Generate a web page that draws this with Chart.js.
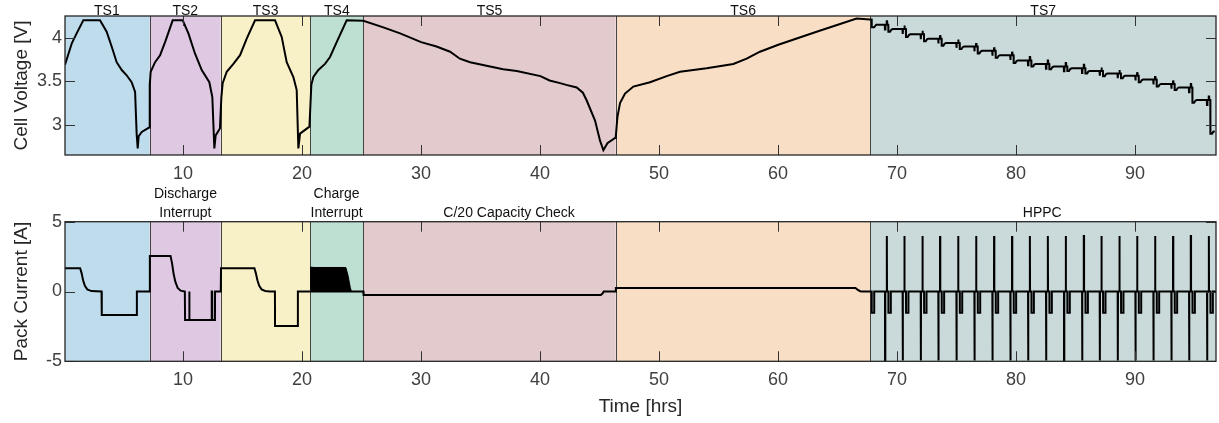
<!DOCTYPE html>
<html>
<head>
<meta charset="utf-8">
<script src="https://cdn.jsdelivr.net/npm/chart.js@4.4.0/dist/chart.umd.min.js"></script>
<style>
  html, body { margin: 0; padding: 0; background: #fff; }
  #wrap { position: relative; width: 1219px; height: 423px; overflow: hidden; }
  canvas { position: absolute; left: 0; }
  #voltageChart { top: 0; }
  #currentChart { top: 186px; }
</style>
</head>
<body>
<div id="wrap">
  <canvas id="voltageChart" width="1219" height="186"></canvas>
  <canvas id="currentChart" width="1219" height="237"></canvas>
</div>
<script>
// Test phases [hrs]
const phaseNames = ['TS1', 'TS2', 'TS3', 'TS4', 'TS5', 'TS6', 'TS7'];
const phaseStarts = [0, 7.2, 13.17, 20.7, 25.15, 46.36, 67.76];
const phaseEnds = [7.2, 13.17, 20.7, 25.15, 46.36, 67.76, 96.8];
const phaseColors = ['#bedcec', '#dec8e2', '#f8f0c6', '#bee0d2', '#e3cacc', '#f8dec4', '#cadada'];

// Notes above the current panel
const currentNotes = [['Discharge', 'Interrupt'], ['Charge', 'Interrupt'], ['C/20 Capacity Check'], ['HPPC']];
const currentNoteTimes = [10.2, 22.9, 37.4, 82.2];

// Axes
const timeMin = 0.08;
const timeMax = 96.8;
const timeTicks = [10, 20, 30, 40, 50, 60, 70, 80, 90];
const voltageTicks = [3, 3.5, 4];
const currentTicks = [-5, 0, 5];

// Cell voltage, TS1 - TS6 and start of TS7
const voltageTime = [
  0.08, 0.38, 0.66, 1.06, 1.62, 3.02, 3.58, 4.0, 4.42, 4.85, 5.26, 5.68, 5.97, 6.1, 6.19, 6.27, 6.53, 7.14,
  7.2, 7.28, 7.65, 8.07, 8.49, 9.13, 9.97, 10.45, 11.0, 11.57, 12.21, 12.46, 12.63, 12.74, 13.1,
  13.22, 13.33, 13.67, 14.23, 14.79, 15.35, 16.05, 17.73, 18.29, 18.71, 19.27, 19.55, 19.69, 19.83, 20.62,
  20.78, 20.95, 21.37, 21.93, 22.35, 22.91, 23.75, 25.15,
  26.83, 28.24, 30.0, 31.3, 32.44, 33.26, 34.12, 35.8, 36.9, 38.04, 40.03, 40.8, 41.68, 42.2, 43.08,
  43.6, 43.92, 44.62, 45.04, 45.32, 45.66, 46.3,
  46.36, 46.5, 46.72, 47.14, 47.84, 49.24, 50.64, 51.76, 54.0, 56.24, 57.36, 58.48, 60.02, 63.24, 66.6, 67.72,
  67.86, 67.87, 68.07, 68.25
];
const voltageValues = [
  3.69, 3.82, 3.94, 4.05, 4.2, 4.2, 4.07, 3.9, 3.72, 3.63, 3.57, 3.49, 3.38, 2.9, 2.73, 2.87, 2.92, 2.97,
  3.46, 3.61, 3.72, 3.8, 3.95, 4.2, 4.2, 4.05, 3.82, 3.63, 3.49, 3.32, 2.73, 2.88, 2.96,
  3.32, 3.48, 3.61, 3.7, 3.8, 3.99, 4.2, 4.2, 4.01, 3.72, 3.55, 3.4, 2.73, 2.9, 2.98,
  3.46, 3.55, 3.63, 3.7, 3.78, 3.95, 4.2, 4.195,
  4.12, 4.05, 3.95, 3.9, 3.84, 3.76, 3.72, 3.67, 3.64, 3.62, 3.56, 3.51, 3.48, 3.46, 3.43,
  3.37, 3.28, 3.05, 2.82, 2.71, 2.79, 2.85,
  2.86, 3.09, 3.25, 3.36, 3.44, 3.49, 3.56, 3.61, 3.65, 3.7, 3.76, 3.84, 3.92, 4.07, 4.22, 4.21,
  4.21, 4.12, 4.12, 4.15
];

// HPPC (TS7): pulse times and rest voltage after each pulse
const hppcPulseTimes = [69.13, 70.61, 72.13, 73.61, 75.13, 76.64, 78.15, 79.66, 81.15, 82.66,
  84.17, 85.69, 87.17, 88.68, 90.17, 91.68, 93.19, 94.68, 96.19];
const hppcStartVoltage = 4.15;
const hppcRestVoltage = [4.10, 4.04, 3.99, 3.94, 3.90, 3.85, 3.80, 3.74, 3.70, 3.67,
  3.65, 3.62, 3.59, 3.565, 3.52, 3.47, 3.43, 3.285, 2.93];
const hppcDip = 0.055;     // voltage drop during discharge pulse
const hppcRise = 0.04;     // voltage rise during charge pulse
const hppcSag = 0.03;      // voltage sag during SOC step
const hppcDischargeAmps = -4.95;
const hppcChargeAmps = 3.97;
const hppcStepAmps = -1.52;

// Pack current, TS1 - TS6 and start of TS7
const currentTime = [
  0.08, 1.35, 1.48, 1.6, 1.75, 1.95, 2.3, 3.15, 3.17, 6.1, 6.12, 7.2,
  7.21, 8.95, 9.08, 9.2, 9.35, 9.55, 9.8, 10.15, 10.17, 10.5, 10.51, 10.54, 10.55, 12.4, 12.41, 12.44, 12.45, 12.68, 12.69, 13.17,
  13.19, 16.0, 16.12, 16.25, 16.4, 16.6, 16.9, 17.3, 17.72, 17.73, 19.63, 19.65,
  25.15, 25.17, 45.1, 45.25, 45.35, 46.35, 46.37, 66.5, 66.7, 66.9, 67.1,
  67.86, 67.87, 68.07, 68.08
];
const currentValues = [
  1.66, 1.66, 1.3, 0.8, 0.4, 0.15, 0.03, 0, -1.68, -1.68, 0, 0,
  2.54, 2.54, 2.0, 1.3, 0.7, 0.25, 0.06, 0, -2.04, -2.04, 0, 0, -2.04, -2.04, 0, 0, -2.04, -2.04, 0, 0,
  1.66, 1.66, 1.3, 0.8, 0.4, 0.15, 0.04, 0, 0, -2.47, -2.47, 0,
  0, -0.25, -0.25, -0.15, 0, 0, 0.25, 0.25, 0.12, 0.02, 0,
  0, -1.52, -1.52, 0
];

// Charge interrupt (TS4) envelope of the fast current toggling
const chargeInterruptTime = [20.72, 20.72, 21.0, 23.68, 23.85, 24.05, 24.15];
const chargeInterruptTop = [0, 1.75, 1.72, 1.72, 1.2, 0.3, 0];

const FONT = '"Liberation Sans", Arial, Helvetica, sans-serif';

function buildVoltage() {
  const pts = voltageTime.map((t, i) => ({x: t, y: voltageValues[i]}));
  let prev = hppcStartVoltage;
  hppcPulseTimes.forEach((t, k) => {
    const next = hppcRestVoltage[k];
    pts.push(
      {x: t - 0.16, y: prev}, {x: t - 0.15, y: prev - hppcDip}, {x: t - 0.12, y: prev - hppcDip},
      {x: t - 0.11, y: prev}, {x: t - 0.01, y: prev}, {x: t, y: prev + hppcRise},
      {x: t + 0.03, y: prev + hppcRise}, {x: t + 0.04, y: prev}, {x: t + 0.13, y: prev},
      {x: t + 0.14, y: next - hppcSag}, {x: t + 0.28, y: next - hppcSag},
      {x: t + 0.38, y: next - 0.008}, {x: t + 0.5, y: next}
    );
    prev = next;
  });
  return pts;
}

function buildCurrent() {
  const pts = currentTime.map((t, i) => ({x: t, y: currentValues[i]}));
  hppcPulseTimes.forEach(t => {
    pts.push(
      {x: t - 0.145, y: 0}, {x: t - 0.14, y: hppcDischargeAmps}, {x: t - 0.12, y: hppcDischargeAmps},
      {x: t - 0.115, y: 0}, {x: t - 0.005, y: 0}, {x: t, y: hppcChargeAmps},
      {x: t + 0.02, y: hppcChargeAmps}, {x: t + 0.025, y: 0}, {x: t + 0.14, y: 0},
      {x: t + 0.145, y: hppcStepAmps}, {x: t + 0.34, y: hppcStepAmps}, {x: t + 0.345, y: 0}
    );
  });
  pts.push({x: timeMax, y: 0});
  return pts;
}

// Shaded phases, boundaries, box and inward ticks (MATLAB style)
const phasePlugin = {
  id: 'phases',
  beforeDatasetsDraw(chart) {
    const {ctx, chartArea: a, scales: {x}} = chart;
    ctx.save();
    phaseStarts.forEach((s, i) => {
      const x0 = x.getPixelForValue(Math.max(s, x.min));
      const x1 = x.getPixelForValue(Math.min(phaseEnds[i], x.max));
      ctx.fillStyle = phaseColors[i];
      ctx.fillRect(x0, a.top, x1 - x0, a.bottom - a.top);
    });
    ctx.strokeStyle = '#444';
    ctx.lineWidth = 1;
    ctx.beginPath();
    phaseStarts.slice(1).forEach(s => {
      const px = Math.round(x.getPixelForValue(s)) + 0.5;
      ctx.moveTo(px, a.top);
      ctx.lineTo(px, a.bottom);
    });
    ctx.stroke();
    ctx.restore();
  },
  afterDatasetsDraw(chart) {
    const {ctx, chartArea: a, scales: {x, y}} = chart;
    ctx.save();
    ctx.strokeStyle = '#333';
    ctx.lineWidth = 1;
    ctx.beginPath();
    x.ticks.forEach(t => {
      const px = Math.round(x.getPixelForValue(t.value)) + 0.5;
      ctx.moveTo(px, a.bottom); ctx.lineTo(px, a.bottom - 10);
      ctx.moveTo(px, a.top); ctx.lineTo(px, a.top + 10);
    });
    y.ticks.forEach(t => {
      const py = Math.round(y.getPixelForValue(t.value)) + 0.5;
      ctx.moveTo(a.left, py); ctx.lineTo(a.left + 10, py);
      ctx.moveTo(a.right, py); ctx.lineTo(a.right - 10, py);
    });
    ctx.stroke();
    ctx.strokeStyle = '#262626';
    ctx.lineWidth = 1.3;
    ctx.strokeRect(a.left, a.top, a.right - a.left, a.bottom - a.top);
    ctx.restore();
  }
};

const phaseMid = phaseStarts.map((s, i) => (s + phaseEnds[i]) / 2);

// Labels above each panel
function notesPlugin(texts, times, gap) {
  return {
    id: 'notes',
    afterDraw(chart) {
      const {ctx, chartArea: a, scales: {x}} = chart;
      ctx.save();
      ctx.font = '14px ' + FONT;
      ctx.fillStyle = '#111';
      ctx.textAlign = 'center';
      ctx.textBaseline = 'alphabetic';
      texts.forEach((lines, i) => {
        const px = x.getPixelForValue(times[i]);
        lines.forEach((line, j) => {
          const offset = (lines.length - 1 - j) * 18.4;
          ctx.fillText(line, px, a.top - gap - offset);
        });
      });
      ctx.restore();
    }
  };
}

function timeScale(height, showTitle) {
  return {
    type: 'linear',
    min: timeMin,
    max: timeMax,
    afterBuildTicks: s => { s.ticks = timeTicks.map(v => ({value: v})); },
    afterFit: s => { s.height = height; },
    grid: {display: false, drawTicks: false},
    border: {display: false},
    ticks: {
      padding: 8,
      color: '#404040',
      font: {family: FONT, size: 18},
      callback: v => String(v)
    },
    title: {
      display: showTitle,
      text: 'Time [hrs]',
      color: '#262626',
      font: {family: FONT, size: 19},
      padding: {top: 0, bottom: 5}
    }
  };
}

function valueScale(min, max, tickValues, title) {
  return {
    min: min,
    max: max,
    afterBuildTicks: s => { s.ticks = tickValues.map(v => ({value: v})); },
    afterFit: s => { s.width = 65; },
    grid: {display: false, drawTicks: false},
    border: {display: false},
    ticks: {
      padding: 3,
      color: '#404040',
      font: {family: FONT, size: 18},
      callback: v => String(v)
    },
    title: {
      display: true,
      text: title,
      color: '#262626',
      font: {family: FONT, size: 19},
      padding: {top: 10, bottom: 0}
    }
  };
}

const commonOptions = {
  responsive: false,
  animation: false,
  events: [],
  plugins: {legend: {display: false}, tooltip: {enabled: false}}
};

new Chart(document.getElementById('voltageChart'), {
  type: 'line',
  data: {
    datasets: [{
      data: buildVoltage(),
      borderColor: '#000',
      borderWidth: 2,
      pointRadius: 0,
      tension: 0,
      fill: false
    }]
  },
  options: Object.assign({}, commonOptions, {
    layout: {padding: {top: 16, right: 3, left: 0, bottom: 0}},
    scales: {
      x: timeScale(31, false),
      y: valueScale(2.655, 4.25, voltageTicks, 'Cell Voltage [V]')
    }
  }),
  plugins: [phasePlugin, notesPlugin(phaseNames.map(n => [n]), phaseMid, 1.5)]
});

new Chart(document.getElementById('currentChart'), {
  type: 'line',
  data: {
    datasets: [{
      data: buildCurrent(),
      borderColor: '#000',
      borderWidth: 2,
      pointRadius: 0,
      tension: 0,
      fill: false
    }, {
      data: chargeInterruptTime.map((t, i) => ({x: t, y: chargeInterruptTop[i]})),
      borderColor: '#000',
      backgroundColor: '#000',
      borderWidth: 1,
      pointRadius: 0,
      tension: 0,
      fill: 'origin'
    }]
  },
  options: Object.assign({}, commonOptions, {
    layout: {padding: {top: 35.7, right: 3, left: 0, bottom: 0}},
    scales: {
      x: timeScale(61.7, true),
      y: valueScale(-5, 5, currentTicks, 'Pack Current [A]')
    }
  }),
  plugins: [phasePlugin, notesPlugin(currentNotes, currentNoteTimes, 5)]
});
</script>
</body>
</html>
